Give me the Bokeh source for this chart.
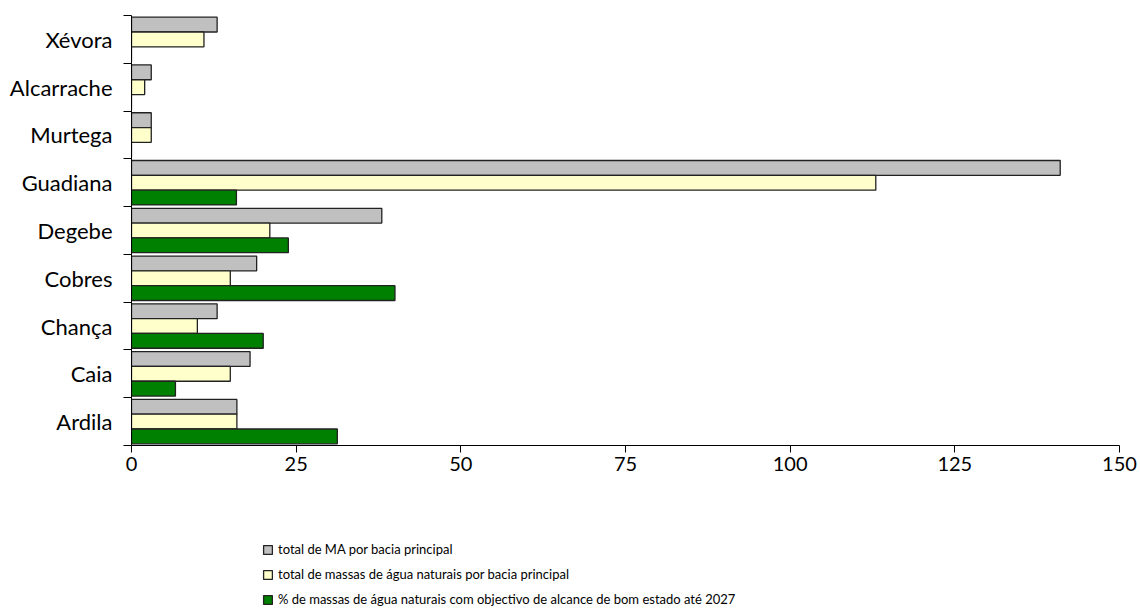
import numpy as np
from bokeh.plotting import figure
from bokeh.layouts import column
from bokeh.models import (ColumnDataSource, Range1d, FixedTicker, Legend, LegendItem)
from bokeh.transform import dodge
from bokeh.embed import file_html
from bokeh.resources import INLINE

# Data (bottom to top)
basins = ["Ardila", "Caia", "Chança", "Cobres", "Degebe", "Guadiana", "Murtega", "Alcarrache", "Xévora"]
total_ma = [16, 18, 13, 19, 38, 141, 3, 3, 13]
total_naturais = [16, 15, 10, 15, 21, 113, 3, 2, 11]
pct_bom_estado = [31.25, 6.67, 20.0, 40.0, 23.81, 15.93, 0, 0, 0]
x_ticks = [0, 25, 50, 75, 100, 125, 150]
series_names = [
    "total de MA por bacia principal",
    "total de massas de água naturais por bacia principal",
    "% de massas de água naturais com objectivo de alcance de bom estado até 2027",
]
colors = ["#c0c0c0", "#ffffcc", "#008000"]
edge = "#222222"

ypos = np.arange(len(basins)) + 0.5
src = ColumnDataSource(dict(y=ypos, a=total_ma, b=total_naturais, c=pct_bom_estado))

FONT = "Lato"
p = figure(width=1140, height=480, output_backend="svg", toolbar_location=None,
           x_range=Range1d(0, 150), y_range=Range1d(0, len(basins)),
           min_border_left=131, min_border_right=21, min_border_top=15, min_border_bottom=35)
p.outline_line_color = None
p.xgrid.visible = False
p.ygrid.visible = False
p.background_fill_color = "white"
p.border_fill_color = "white"

h = 0.31
for col, off, c in (("a", h, colors[0]), ("b", 0, colors[1]), ("c", -h, colors[2])):
    p.hbar(y=dodge("y", off, range=p.y_range), right=col, left=0, height=h, source=src,
           fill_color=c, line_color=edge, line_width=1.3)

# x axis
xa = p.xaxis[0]
xa.ticker = FixedTicker(ticks=x_ticks)
xa.minor_tick_line_color = None
xa.major_tick_out = 7
xa.major_tick_in = 0
xa.axis_line_color = "black"
xa.major_tick_line_color = "black"
xa.major_label_text_font = FONT
xa.major_label_text_font_size = "20px"
xa.major_label_text_color = "black"
xa.major_label_standoff = 4

# y axis: labels at centres, ticks at boundaries
ya = p.yaxis[0]
ya.ticker = FixedTicker(ticks=list(ypos), minor_ticks=list(range(len(basins) + 1)))
ya.major_label_overrides = {float(v): n for v, n in zip(ypos, basins)}
ya.major_tick_line_color = None
ya.major_tick_out = 0
ya.minor_tick_line_color = "black"
ya.minor_tick_out = 8
ya.minor_tick_in = 0
ya.axis_line_color = "black"
ya.major_label_text_font = FONT
ya.major_label_text_font_size = "22px"
ya.major_label_text_color = "black"
ya.major_label_standoff = 11

# legend panel (hidden swatch renderers, only for the legend glyphs)
q = figure(width=1140, height=131, output_backend="svg", toolbar_location=None,
           x_range=Range1d(0, 1140), y_range=Range1d(0, 131),
           min_border_left=0, min_border_right=0, min_border_top=0, min_border_bottom=0)
q.xaxis.visible = False
q.yaxis.visible = False
q.xgrid.visible = False
q.ygrid.visible = False
q.outline_line_color = None
q.border_fill_color = "white"
items = []
for name, c in zip(series_names, colors):
    r = q.hbar(y=[50], right=[1], left=[0], height=1,
               fill_color=c, line_color=edge, line_width=1.3, visible=False)
    items.append(LegendItem(label=name, renderers=[r]))
legend = Legend(items=items, location=(131, 4), orientation="vertical",
                glyph_width=11, glyph_height=11, label_height=11, spacing=9,
                padding=0, margin=0, border_line_color=None, background_fill_alpha=0,
                inactive_fill_alpha=0, click_policy="none",
                label_text_font=FONT, label_text_font_size="13px", label_text_color="black",
                label_standoff=5)
q.add_layout(legend, "center")

layout = column(p, q, spacing=0)
open("out.html", "w").write(file_html(layout, INLINE))
